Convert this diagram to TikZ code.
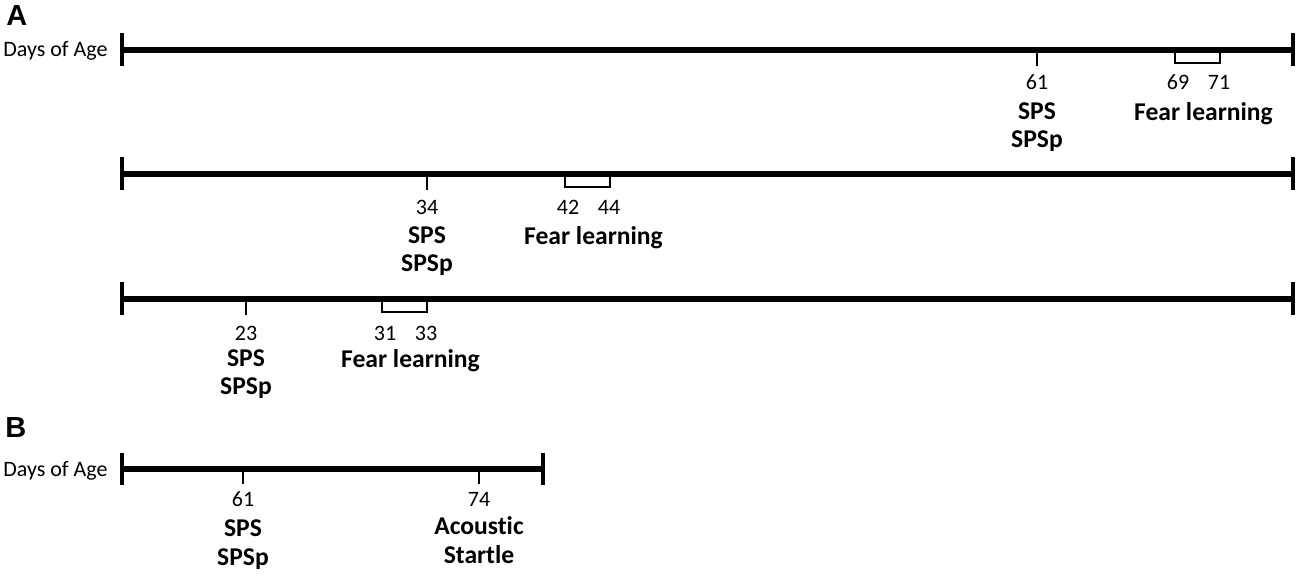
\documentclass[tikz,border=0pt]{standalone}
\usepackage{fontspec}
\setmainfont[Ligatures={NoCommon}]{Carlito}
\newfontfamily\panelfont{Liberation Sans}
\begin{document}
\begin{tikzpicture}[x=0.5pt,y=-0.5pt,
  axis/.style={line width=2.6pt},
  endtick/.style={line width=1.6pt},
  daytick/.style={line width=0.7pt},
  panel/.style={anchor=base west,inner sep=0pt,font=\panelfont\fontsize{14.5}{16}\selectfont\bfseries},
  day/.style={anchor=base,inner sep=0pt,font=\fontsize{11}{13}\selectfont},
  event/.style={anchor=base,inner sep=0pt,font=\fontsize{12.8}{15}\selectfont\bfseries}]
\useasboundingbox (0,0) rectangle (1300,577);

\node[panel] (lblA) at (6,26) {A};
\node[panel] (lblB) at (5,437) {B};
\node[day,anchor=base west] (ageA) at (3,57) {Days of Age};
\node[day,anchor=base west] (ageB) at (3,476) {Days of Age};

% three time lines of panel A
\foreach \r/\y/\t/\d/\a/\b/\da/\db/\n/\s/\p in
  {1/50/1037/61/1175/1220/69/71/90/120/148,
   2/174/427/34/565/610/42/44/214/243/271,
   3/299/246/23/382/427/31/33/340/366/394}
{
\draw[axis] (122,\y) -- (1293,\y);
\draw[endtick] (122,\y-17) -- (122,\y+16);
\draw[endtick] (1293,\y-17) -- (1293,\y+16);
\draw[daytick] (\t,\y) -- (\t,\y+16);
\draw[daytick] (\a,\y) -- (\a,\y+13) -- (\b,\y+13) -- (\b,\y);
\node[day] (sps\r) at (\t,\n) {\d};
\node[event] (spsa\r) at (\t,\s) {SPS};
\node[event] (spsb\r) at (\t,\p) {SPSp};
\node[day] (fa\r) at (\a+3,\n) {\da};
\node[day] (fb\r) at (\b-1,\n) {\db};
\node[event] (fear\r) at ({(\a+\b)/2+6},\s+1) {Fear learning};
}

% panel B
\draw[axis] (122,469) -- (543,469);
\draw[endtick] (122,453) -- (122,485);
\draw[endtick] (543,453) -- (543,485);
\draw[daytick] (243,469) -- (243,484);
\draw[daytick] (479,469) -- (479,484);
\node[day] (spsB) at (243,506) {61};
\node[event] (spsaB) at (243,536) {SPS};
\node[event] (spsbB) at (243,565) {SPSp};
\node[day] (acB) at (479,506) {74};
\node[event] (acaB) at (479,534) {Acoustic};
\node[event] (acbB) at (479,563) {Startle};
\end{tikzpicture}
\end{document}
